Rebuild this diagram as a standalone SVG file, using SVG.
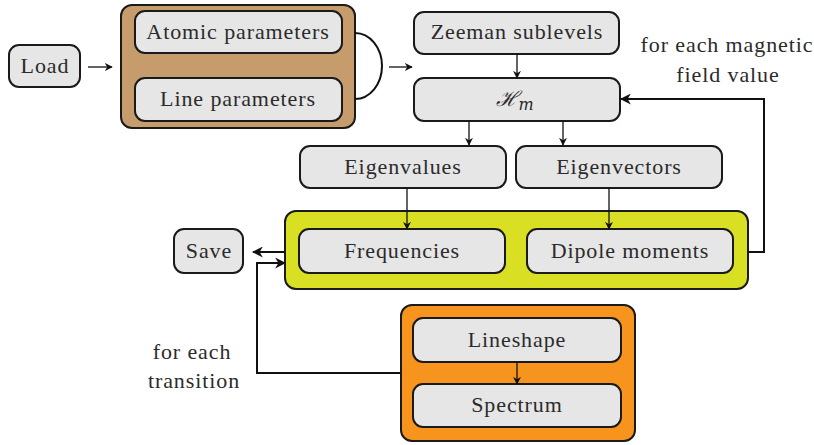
<svg xmlns="http://www.w3.org/2000/svg" width="814" height="445" viewBox="0 0 814 445">
<style>
.box{fill:#e6e6e6;stroke:#1a1a1a;stroke-width:2}
.grp{stroke:#1a1a1a;stroke-width:2}
.t{font-size:22px;letter-spacing:0.9px;fill:#2b2b2b;text-anchor:middle}
.c{fill:none;stroke:#111;stroke-width:1.3}
.ct{fill:none;stroke:#111;stroke-width:2}
</style>
<defs>
<marker id="ah" viewBox="0 0 10 10" refX="9" refY="5" markerWidth="8" markerHeight="8" markerUnits="userSpaceOnUse" orient="auto">
<path d="M0,0 L10,5 L0,10 L3,5 z" fill="#111"/>
</marker>
<marker id="ahb" viewBox="0 0 10 10" refX="9" refY="5" markerWidth="11" markerHeight="11" markerUnits="userSpaceOnUse" orient="auto">
<path d="M0,0 L10,5 L0,10 L3,5 z" fill="#111"/>
</marker>
</defs>
<g font-family="Liberation Serif, serif">
<g id="load"><rect class="box" x="9" y="45" width="71" height="42" rx="10"/><text class="t" x="45" y="73">Load</text></g>

<g id="params-group">
<rect class="grp" x="121" y="5" width="234" height="123" rx="11" fill="#c69c6d"/>
<g id="atomic"><rect class="box" x="135" y="11" width="207" height="42" rx="10"/><text class="t" x="238" y="39">Atomic parameters</text></g>
<g id="line"><rect class="box" x="135" y="78" width="207" height="43" rx="10"/><text class="t" x="238" y="106">Line parameters</text></g>
</g>

<g id="zeeman"><rect class="box" x="414" y="12" width="205" height="42" rx="10"/><text class="t" x="517" y="39">Zeeman sublevels</text></g>
<g id="hm"><rect class="box" x="414" y="78" width="206" height="43" rx="10"/><text x="515" y="106" font-family="DejaVu Serif, serif" font-size="21" font-style="italic" fill="#2b2b2b" text-anchor="middle">ℋ<tspan font-size="16" dy="4">m</tspan></text></g>

<g id="eigenvalues"><rect class="box" x="300" y="146" width="206" height="42" rx="10"/><text class="t" x="403" y="174">Eigenvalues</text></g>
<g id="eigenvectors"><rect class="box" x="516" y="146" width="206" height="42" rx="10"/><text class="t" x="619" y="174">Eigenvectors</text></g>

<g id="results-group">
<rect class="grp" x="285" y="211" width="463" height="78" rx="11" fill="#d9df22"/>
<g id="frequencies"><rect class="box" x="299" y="229" width="206" height="44" rx="10"/><text class="t" x="402" y="258">Frequencies</text></g>
<g id="dipole"><rect class="box" x="527" y="229" width="206" height="44" rx="10"/><text class="t" x="630" y="258">Dipole moments</text></g>
</g>

<g id="save"><rect class="box" x="174" y="229" width="69" height="44" rx="10"/><text class="t" x="209" y="258">Save</text></g>

<g id="spectrum-group">
<rect class="grp" x="401" y="305" width="234" height="136" rx="11" fill="#f7941d"/>
<g id="lineshape"><rect class="box" x="413" y="318" width="208" height="44" rx="10"/><text class="t" x="517" y="347">Lineshape</text></g>
<g id="spectrum"><rect class="box" x="413" y="384" width="208" height="43" rx="10"/><text class="t" x="517" y="412">Spectrum</text></g>
</g>

<g id="labels">
<text class="t" x="727" y="52">for each magnetic</text>
<text class="t" x="728" y="82">field value</text>
<text class="t" x="192" y="359">for each</text>
<text class="t" x="194" y="388">transition</text>
</g>
</g>

<g id="connectors">
<path class="c" d="M88,67 H112" marker-end="url(#ah)"/>
<path class="c" d="M355,33 A27,33 0 0 1 355,99" style="stroke-width:2"/>
<path class="c" d="M389,67 H412" marker-end="url(#ah)"/>
<path class="c" d="M517,54 V78" marker-end="url(#ah)"/>
<path class="c" d="M469,121 V145" marker-end="url(#ah)"/>
<path class="c" d="M563,121 V145" marker-end="url(#ah)"/>
<path class="c" d="M407,188 V229" marker-end="url(#ah)"/>
<path class="c" d="M609,188 V229" marker-end="url(#ah)"/>
<path class="c" d="M517,362 V384" marker-end="url(#ah)"/>
<path class="ct" d="M285,252 H253" marker-end="url(#ahb)"/>
<path class="ct" d="M401,373 H257 V263 H285" marker-end="url(#ahb)"/>
<path class="ct" d="M748,252 H764 V99 H621" marker-end="url(#ahb)"/>
</g>
</svg>
